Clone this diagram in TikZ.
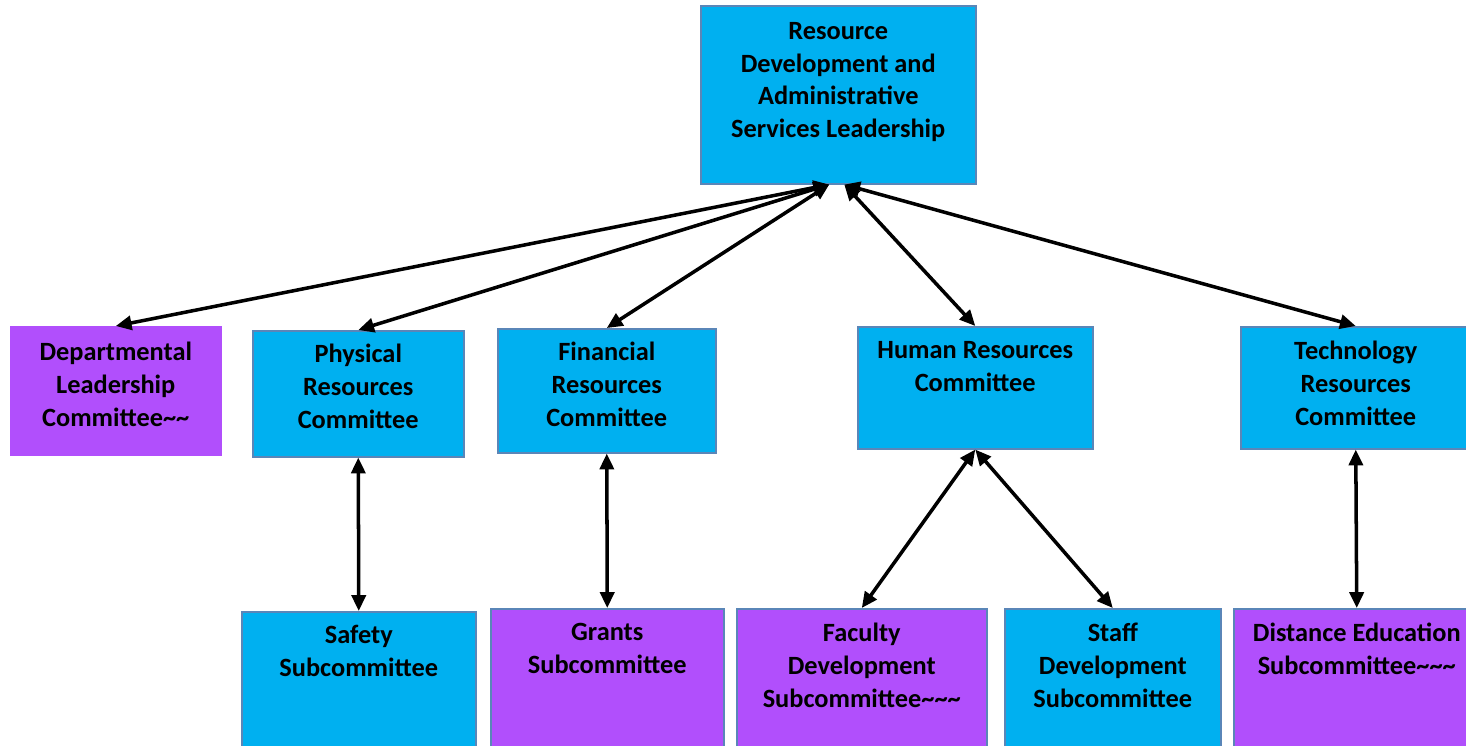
\documentclass[tikz,border=0pt]{standalone}
\usepackage{fontspec}
\setmainfont{Carlito}
\usetikzlibrary{positioning, calc, arrows.meta}

\definecolor{boxblue}{HTML}{00B0F0}
\definecolor{boxpurple}{HTML}{B14FFC}
\definecolor{edgeblue}{HTML}{5A86B8}

\begin{document}
\begin{tikzpicture}[x=0.02cm, y=-0.02cm,
    box/.style={rectangle, anchor=north west, inner sep=0pt, draw=edgeblue, line width=0.9pt},
    bluebox/.style={box, fill=boxblue},
    purplebox/.style={box, fill=boxpurple},
    boxtext/.style={anchor=north, align=center, inner sep=0pt, font=\fontsize{15}{18.6}\selectfont\bfseries},
    twoway/.style={{Triangle[length=9pt,width=8pt]}-{Triangle[length=9pt,width=8pt]}, line width=2pt}]
    \useasboundingbox (0,0) rectangle (1466,746);

    % leadership
    \node[bluebox, minimum width=5.5cm, minimum height=3.56cm] (lead) at (700,5) {};
    \node[boxtext] (leadtxt) at ($(lead.north)+(0,17)$) {Resource\\Development and\\Administrative\\Services Leadership};

    % committees
    \node[purplebox, draw=boxpurple, minimum width=4.2cm, minimum height=2.56cm] (dept) at (10,326) {};
    \node[bluebox, minimum width=4.22cm, minimum height=2.52cm] (phys) at (252,330) {};
    \node[bluebox, minimum width=4.36cm, minimum height=2.48cm] (fin) at (497,328) {};
    \node[bluebox, minimum width=4.7cm, minimum height=2.44cm] (hum) at (857,326) {};
    \node[bluebox, minimum width=4.6cm, minimum height=2.44cm] (tech) at (1240,326) {};

    \node[boxtext] (depttxt) at ($(dept.north)+(0,16)$) {Departmental\\Leadership\\Committee\char`~\char`~};
    \node[boxtext] (phystxt) at ($(phys.north)+(0,14)$) {Physical\\Resources\\Committee};
    \node[boxtext] (fintxt) at ($(fin.north)+(0,14)$) {Financial\\Resources\\Committee};
    \node[boxtext] (humtxt) at ($(hum.north)+(0,15)$) {Human Resources\\Committee};
    \node[boxtext] (techtxt) at ($(tech.north)+(0,15)$) {Technology\\Resources\\Committee};

    % subcommittees
    \node[bluebox, minimum width=4.68cm, minimum height=2.9cm] (safe) at (241,611) {};
    \node[purplebox, minimum width=4.66cm, minimum height=2.9cm] (grant) at (490,608) {};
    \node[purplebox, minimum width=5.0cm, minimum height=2.9cm] (fac) at (736,608) {};
    \node[bluebox, minimum width=4.32cm, minimum height=2.9cm] (staff) at (1004,608) {};
    \node[purplebox, minimum width=4.92cm, minimum height=2.9cm] (dist) at (1233,608) {};

    \node[boxtext] (safetxt) at ($(safe.north)+(0,14)$) {Safety\\Subcommittee};
    \node[boxtext] (granttxt) at ($(grant.north)+(0,15)$) {Grants\\Subcommittee};
    \node[boxtext] (factxt) at ($(fac.north)+(0,15)$) {Faculty\\Development\\Subcommittee\char`~\char`~\char`~};
    \node[boxtext] (stafftxt) at ($(staff.north)+(0,15)$) {Staff\\Development\\Subcommittee};
    \node[boxtext] (disttxt) at ($(dist.north)+(0,15)$) {Distance Education\\Subcommittee\char`~\char`~\char`~};

    % links
    \coordinate (leadl) at ($(lead.south)+(-9,0)$);
    \coordinate (leadr) at ($(lead.south)+(6,0)$);
    \draw[twoway] (leadl) -- (dept.north);
    \draw[twoway] (leadl) -- (phys.north);
    \draw[twoway] (leadl) -- (fin.north);
    \draw[twoway] (leadr) -- (hum.north);
    \draw[twoway] (leadr) -- (tech.north);

    \draw[twoway] (phys.south) -- (safe.north);
    \draw[twoway] (fin.south) -- (grant.north);
    \draw[twoway] (hum.south) -- (fac.north);
    \draw[twoway] (hum.south) -- (staff.north);
    \draw[twoway] (tech.south) -- (dist.north);
\end{tikzpicture}
\end{document}
